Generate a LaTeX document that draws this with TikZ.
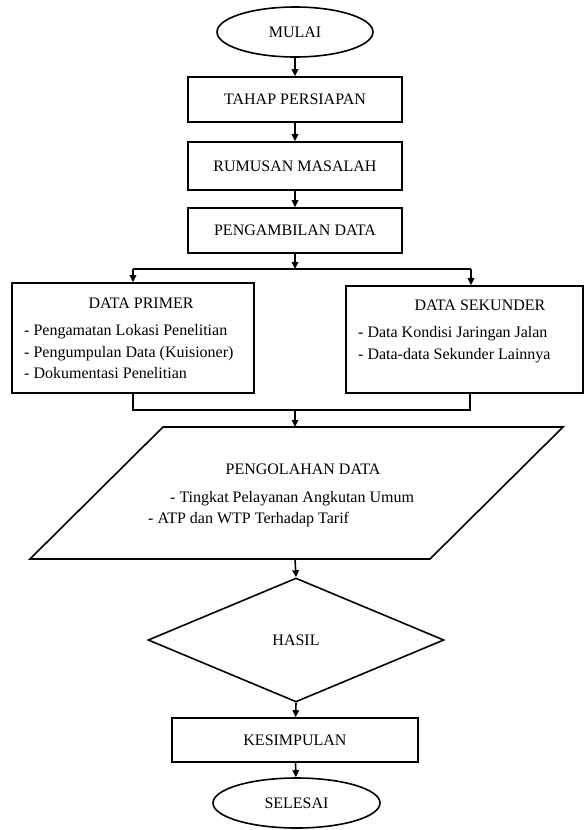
\documentclass[tikz,border=0pt]{standalone}
\usepackage{fontspec}
\setmainfont{Liberation Serif}
\usetikzlibrary{shapes.geometric,arrows.meta}
\begin{document}
\begin{tikzpicture}[x=1pt,y=-1pt,
  every node/.style={font=\fontsize{16}{19}\selectfont, inner sep=0pt},
  ln/.style={line width=1.6pt, line join=miter},
  arr/.style={ln, -{Triangle[length=7pt,width=6.5pt]}},
  term/.style={ellipse, draw, line width=1.6pt},
  box/.style={rectangle, draw, line width=1.6pt, text width=#1},
  txt/.style={anchor=base west}]
\useasboundingbox (0,0) rectangle (585,830);
% terminals and boxes
\node[term, minimum width=156pt, minimum height=50pt] (mulai) at (295,32) {MULAI};
\node[draw, line width=1.6pt, minimum width=214pt, minimum height=45pt] (tahap) at (295,99.5) {TAHAP PERSIAPAN};
\node[draw, line width=1.6pt, minimum width=214pt, minimum height=48pt] (rumus) at (295,166) {RUMUSAN MASALAH};
\node[draw, line width=1.6pt, minimum width=214pt, minimum height=45pt] (ambil) at (295,230.5) {PENGAMBILAN DATA};
% data primer
\node[draw, line width=1.6pt, minimum width=242pt, minimum height=110pt] (primer) at (133,338) {};
\node (ptitle) at (141,303) {DATA PRIMER};
\node[txt] (p1) at (24,335) {- Pengamatan Lokasi Penelitian};
\node[txt] (p2) at (24,357) {- Pengumpulan Data (Kuisioner)};
\node[txt] (p3) at (24,378.5) {- Dokumentasi Penelitian};
% data sekunder
\node[draw, line width=1.6pt, minimum width=237pt, minimum height=107pt] (sekunder) at (464.5,339.5) {};
\node (stitle) at (480,305) {DATA SEKUNDER};
\node[txt] (s1) at (358,337) {- Data Kondisi Jaringan Jalan};
\node[txt] (s2) at (358,359) {- Data-data Sekunder Lainnya};
% parallelogram
\coordinate (q1) at (163,427);
\coordinate (q2) at (563,427);
\coordinate (q3) at (430,559);
\coordinate (q4) at (30,559);
\draw[ln] (q1) -- (q2) -- (q3) -- (q4) -- cycle;
\node (olah) at (303,469) {PENGOLAHAN DATA};
\node[txt] (o1) at (170,502) {- Tingkat Pelayanan Angkutan Umum};
\node[txt] (o2) at (148,523) {- ATP dan WTP Terhadap Tarif};
% decision
\node[diamond, draw, line width=1.6pt, minimum width=296pt, minimum height=124pt, aspect=2.4] (hasil) at (296,640) {HASIL};
\node[draw, line width=1.6pt, minimum width=246pt, minimum height=44pt] (kes) at (295,740) {KESIMPULAN};
\node[term, minimum width=167pt, minimum height=50pt] (selesai) at (296.5,803) {SELESAI};
% connectors
\coordinate (split) at (295,269);
\coordinate (sl) at (133,269);
\coordinate (sr) at (471,269);
\coordinate (jl) at (133,410);
\coordinate (jr) at (470,410);
\coordinate (jm) at (295,410);
\coordinate (qt) at (295,427);
\draw[arr] (mulai) -- (tahap);
\draw[arr] (tahap) -- (rumus);
\draw[arr] (rumus) -- (ambil);
\draw[arr] (ambil) -- (split);
\draw[ln] (sl) -- (sr);
\draw[arr] (sl) -- (sl |- primer.north);
\draw[arr] (sr) -- (sr |- sekunder.north);
\draw[ln] (jl |- primer.south) -- (jl) -- (jr) -- (jr |- sekunder.south);
\draw[arr] (jm) -- (qt);
\draw[arr] (295,559) -- (hasil.north);
\draw[arr] (hasil.south) -- (kes);
\draw[arr] (kes) -- (selesai);
\end{tikzpicture}
\end{document}
